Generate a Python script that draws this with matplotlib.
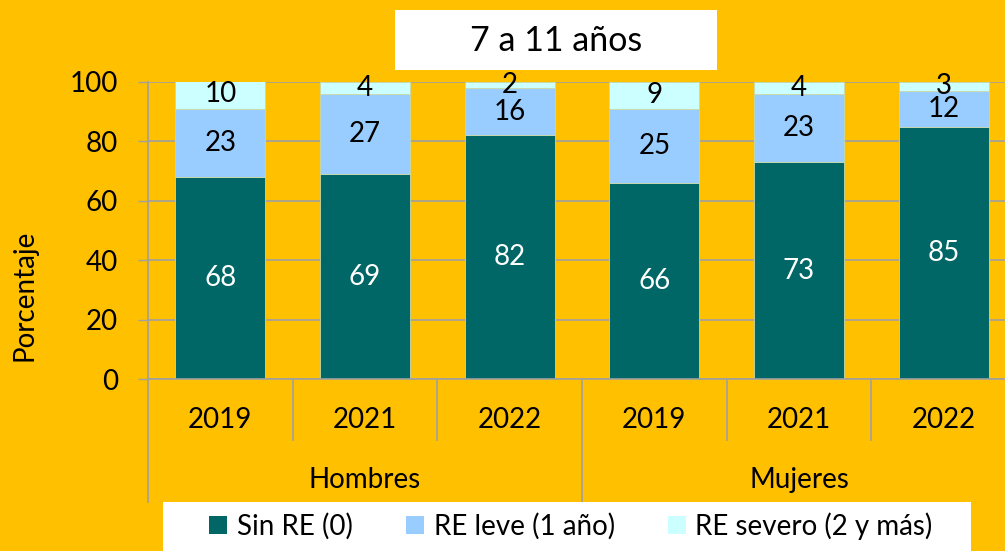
import matplotlib
matplotlib.use("Agg")
import matplotlib.pyplot as plt
from matplotlib.patches import Rectangle, Patch
import matplotlib.transforms as mtransforms

plt.rcParams['font.family'] = ['Lato', 'DejaVu Sans']

# ---- data ----
groups = ["Hombres", "Mujeres"]
years = ["2019", "2021", "2022", "2019", "2021", "2022"]
sin_re = [68, 69, 82, 66, 73, 85]
re_leve = [23, 27, 16, 25, 23, 12]
re_severo = [10, 4, 2, 9, 4, 3]
series_names = ["Sin RE (0)", "RE leve (1 año)", "RE severo (2 y más)"]
title = "7 a 11 años"
ylabel = "Porcentaje"

colors = ["#006666", "#99CCFF", "#CCFFFF"]
bg = "#FFC000"
grid_c = "#A0A0A0"

W, H = 1005, 551
fig = plt.figure(figsize=(W / 100, H / 100), dpi=100, facecolor=bg)

def fx(px):
    return px / W

def fy(py):
    return 1 - py / H

ax_l, ax_r, ax_t, ax_b = 148, 1016, 82, 379
ax = fig.add_axes([fx(ax_l), fy(ax_b), fx(ax_r) - fx(ax_l), fy(ax_t) - fy(ax_b)])
ax.set_facecolor(bg)
ax_w = float(ax_r - ax_l)
ax_h = float(ax_b - ax_t)

FS = 20
x = list(range(len(years)))
bw = 0.62
bottoms = [0] * len(x)
for vals, c in zip([sin_re, re_leve, re_severo], colors):
    ax.bar(x, vals, bw, bottom=bottoms, color=c, edgecolor="#C8D8A8",
           linewidth=0.6, zorder=3)
    for xi, v, b in zip(x, vals, bottoms):
        ax.text(xi, b + v / 2, str(v), ha="center", va="center",
                fontsize=FS, color="white" if c == colors[0] else "black", zorder=4)
    bottoms = [b + v for b, v in zip(bottoms, vals)]

ax.set_xlim(-0.5, len(years) - 0.5)
ax.set_ylim(0, 100)
ax.set_yticks(range(0, 101, 20))
ax.tick_params(axis="y", labelsize=FS, length=7.5, width=1, color=grid_c, pad=14)
ax.set_xticks([])
ax.yaxis.grid(True, color=grid_c, linewidth=1.2, zorder=0)
ax.set_axisbelow(True)
for s in ["top", "right"]:
    ax.spines[s].set_visible(False)
for s in ["left", "bottom"]:
    ax.spines[s].set_color(grid_c)
    ax.spines[s].set_linewidth(1.2)
ax.spines["bottom"].set_zorder(5)

ax.set_ylabel(ylabel, fontsize=FS)
ax.yaxis.set_label_coords((37 - ax_l) / ax_w, (ax_b - 295) / ax_h)

# multi-level category axis
trans = mtransforms.blended_transform_factory(ax.transData, ax.transAxes)
inner_low = -(440 - ax_b) / ax_h
outer_low = -(502 - ax_b) / ax_h
for xs in [0.5, 1.5, 3.5, 4.5]:
    ax.plot([xs, xs], [0, inner_low], transform=trans, color=grid_c, lw=1.2, clip_on=False)
for xs in [-0.5, 2.5, 5.5]:
    ax.plot([xs, xs], [0, outer_low], transform=trans, color=grid_c, lw=1.2, clip_on=False)
for xi, yr in zip(x, years):
    ax.text(xi, -(420 - ax_b) / ax_h, yr, transform=trans, ha="center", va="center", fontsize=FS)
for gi, g in enumerate(groups):
    ax.text(gi * 3 + 1, -(480 - ax_b) / ax_h, g, transform=trans, ha="center", va="center", fontsize=FS)

# title box
fig.patches.append(Rectangle((fx(395), fy(70)), fx(717) - fx(395), fy(10) - fy(70),
                             transform=fig.transFigure, facecolor="white", edgecolor="none", zorder=1))
fig.text(fx(556), fy(41), title, ha="center", va="center", fontsize=24.5, zorder=2)

# legend box
fig.patches.append(Rectangle((fx(163), fy(551)), fx(971) - fx(163), fy(502) - fy(551),
                             transform=fig.transFigure, facecolor="white", edgecolor="none", zorder=1))
handles = [Patch(facecolor=c, edgecolor="none") for c in colors]
fig.legend(handles, series_names, loc="center", bbox_to_anchor=(fx(571), fy(526)),
           ncol=3, frameon=False, fontsize=FS, handlelength=0.65, handleheight=0.65,
           handletextpad=0.35, columnspacing=1.9)

fig.savefig("out.png", dpi=100, facecolor=bg)
